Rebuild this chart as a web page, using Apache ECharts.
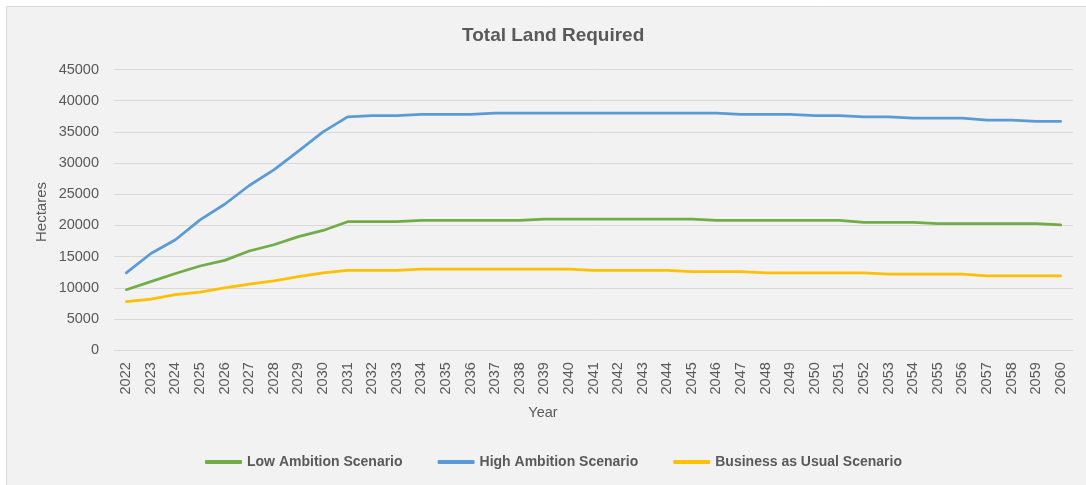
<!DOCTYPE html>
<html>
<head>
<meta charset="utf-8">
<title>Total Land Required</title>
<script src="https://cdn.jsdelivr.net/npm/echarts@6/dist/echarts.min.js"></script>
<style>
  html, body { margin: 0; padding: 0; background: #ffffff; }
  #chart { width: 1086px; height: 485px; }
</style>
</head>
<body>
<div id="chart"></div>
<script>
// Years on the category axis
const years = [];
for (let y = 2022; y <= 2060; y++) years.push(String(y));

// Land required (hectares) per scenario
const lowAmbition = [
  9700, 11000, 12300, 13500, 14400, 15900, 16900, 18200, 19200, 20600,
  20600, 20600, 20800, 20800, 20800, 20800, 20800, 21000, 21000, 21000,
  21000, 21000, 21000, 21000, 20800, 20800, 20800, 20800, 20800, 20800,
  20500, 20500, 20500, 20300, 20300, 20300, 20300, 20300, 20100
];
const highAmbition = [
  12400, 15500, 17700, 20900, 23400, 26400, 28900, 31900, 35000, 37400,
  37600, 37600, 37800, 37800, 37800, 38000, 38000, 38000, 38000, 38000,
  38000, 38000, 38000, 38000, 38000, 37800, 37800, 37800, 37600, 37600,
  37400, 37400, 37200, 37200, 37200, 36900, 36900, 36700, 36700
];
const businessAsUsual = [
  7800, 8200, 8900, 9300, 10000, 10600, 11100, 11800, 12400, 12800,
  12800, 12800, 13000, 13000, 13000, 13000, 13000, 13000, 13000, 12800,
  12800, 12800, 12800, 12600, 12600, 12600, 12400, 12400, 12400, 12400,
  12400, 12200, 12200, 12200, 12200, 11900, 11900, 11900, 11900
];

const seriesNames = ['Low Ambition Scenario', 'High Ambition Scenario', 'Business as Usual Scenario'];
const seriesColors = ['#70ad47', '#5b9bd5', '#ffc000'];
const seriesData = [lowAmbition, highAmbition, businessAsUsual];

const textColor = '#595959';
const gridColor = '#d9d9d9';
const fontFamily = '"Liberation Sans", "DejaVu Sans", sans-serif';

const chart = echarts.init(document.getElementById('chart'), null, { renderer: 'canvas' });

chart.setOption({
  backgroundColor: '#ffffff',
  animation: false,
  graphic: [
    {
      type: 'rect',
      z: -10,
      silent: true,
      shape: { x: 6.5, y: 6.5, width: 1200, height: 600 },
      style: { fill: '#f2f2f2', stroke: gridColor, lineWidth: 1 }
    },
    {
      type: 'text',
      left: 'center',
      top: 405,
      silent: true,
      style: { text: 'Year', fill: textColor, font: '14.5px ' + fontFamily }
    },
    {
      type: 'text',
      x: 42,
      y: 212,
      rotation: Math.PI / 2,
      silent: true,
      style: {
        text: 'Hectares', fill: textColor, font: '15px ' + fontFamily,
        align: 'center', verticalAlign: 'middle'
      }
    }
  ],
  title: {
    text: 'Total Land Required',
    left: 457,
    top: 21,
    textStyle: { color: textColor, fontSize: 19, fontWeight: 'bold', fontFamily: fontFamily }
  },
  legend: {
    data: seriesNames,
    bottom: 11,
    left: 200,
    icon: 'roundRect',
    itemWidth: 37,
    itemHeight: 4,
    itemGap: 35,
    textStyle: { color: textColor, fontSize: 14, fontWeight: 'bold', fontFamily: fontFamily }
  },
  grid: { left: 114, right: 13, top: 69.5, bottom: 134.8, containLabel: false },
  xAxis: {
    type: 'category',
    data: years,
    boundaryGap: true,
    axisLine: { lineStyle: { color: gridColor, width: 1 } },
    axisTick: { show: false },
    axisLabel: {
      rotate: 90,
      margin: 12,
      interval: 0,
      color: textColor,
      fontSize: 14.5,
      fontFamily: fontFamily
    }
  },
  yAxis: {
    type: 'value',
    min: 0,
    max: 45000,
    interval: 5000,
    axisLine: { show: false },
    axisTick: { show: false },
    splitLine: { lineStyle: { color: gridColor, width: 1 } },
    axisLabel: {
      margin: 15,
      color: textColor,
      fontSize: 14.5,
      fontFamily: fontFamily,
      formatter: (v) => String(v)
    }
  },
  series: seriesNames.map((name, i) => ({
    name: name,
    type: 'line',
    data: seriesData[i],
    symbol: 'none',
    smooth: false,
    color: seriesColors[i],
    lineStyle: { color: seriesColors[i], width: 2.75, cap: 'round', join: 'round' }
  }))
});
</script>
</body>
</html>
